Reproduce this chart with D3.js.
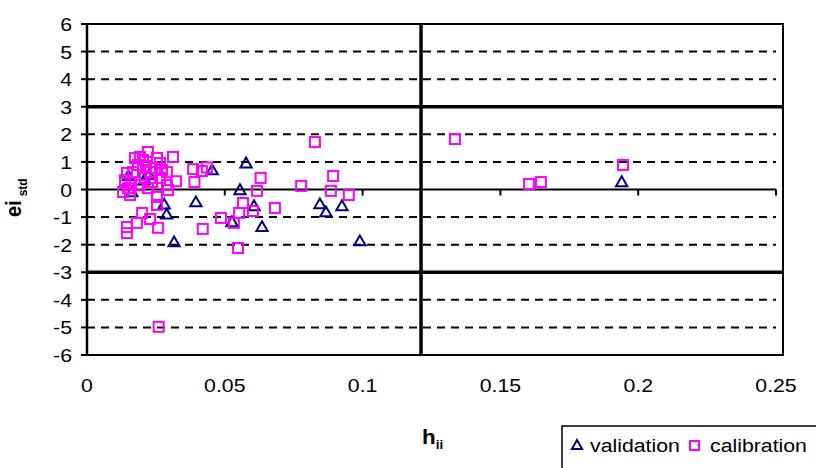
<!DOCTYPE html>
<html>
<head>
<meta charset="utf-8">
<script src="https://cdn.jsdelivr.net/npm/d3@7"></script>
<style>
  body { margin: 0; background: #fff; }
  svg { display: block; font-family: Arial, "Liberation Sans", sans-serif; }
</style>
</head>
<body>
<div class="chart"></div>
<script>
// validation set (triangles)
const valH = [0.194, 0.099, 0.0925, 0.0845, 0.0867, 0.0577, 0.0454, 0.0555, 0.0395, 0.0606, 0.0526, 0.0635, 0.0316, 0.028, 0.0289, 0.0163, 0.015, 0.0225, 0.0207];
const valE = [0.24, -1.9, -0.63, -0.56, -0.85, 0.92, 0.67, -0.05, -0.49, -0.63, -1.21, -1.39, -1.94, -0.57, -0.93, -0.13, 0.45, 0.5, 0.3];

// calibration set (squares)
const calH = [0.0827, 0.0385, 0.0435, 0.0417, 0.0323, 0.039, 0.063, 0.0617, 0.0777, 0.0893, 0.0885, 0.095,
              0.0566, 0.0552, 0.0602, 0.0682, 0.0486, 0.0533, 0.042, 0.0548,
              0.1335, 0.1945, 0.1604, 0.1647, 0.026,
              0.0174, 0.0221, 0.0254, 0.0312, 0.0192, 0.0167, 0.0145, 0.0247, 0.029, 0.0138, 0.0149, 0.0131,
              0.0156, 0.0221, 0.0236, 0.029, 0.0294, 0.0254, 0.0254, 0.02, 0.0229, 0.0145, 0.0145, 0.0181, 0.0258,
              0.0203, 0.0265, 0.0214, 0.0185, 0.0272, 0.0229, 0.0192, 0.0265, 0.016, 0.021];
const calE = [1.72, 0.74, 0.8, 0.67, 0.3, 0.27, 0.42, -0.05, 0.13, 0.49, -0.05, -0.2,
              -0.49, -0.85, -0.78, -0.67, -1.03, -1.21, -1.43, -2.12,
              1.83, 0.89, 0.2, 0.27, -4.98,
              1.14, 1.36, 1.14, 1.18, 1.18, 0.63, 0.6, 0.78, 0.63, 0.34, 0.05, -0.09,
              -0.2, 0.05, 0.27, 0.16, -0.02, -0.56, -0.27, -0.85, -1.07, -1.36, -1.58, -1.21, -1.39,
              1.07, 0.96, 0.85, 0.89, 0.71, 0.63, 0.16, 0.42, 0.24, 0.42];

const xTicks = [0, 0.05, 0.1, 0.15, 0.2, 0.25];
const yTicks = [-6, -5, -4, -3, -2, -1, 0, 1, 2, 3, 4, 5, 6];
const limitE = [3, -3];   // standardized residual limits
const hStar = 0.1212;      // warning leverage

const w = 816, h = 468;
const svg = d3.select('.chart').append('svg').attr('width', w).attr('height', h);

const x = d3.scaleLinear().domain([0, 0.25]).range([87, 776]);
const y = d3.scaleLinear().domain([-6, 6]).range([355, 24]);
const right = 783;
const sx = 1.12; // text is a bit wide in the original

function label(g, tx, ty, str, size, anchor, weight) {
    return g.append('text')
        .attr('transform', `translate(${tx},${ty}) scale(${sx},1)`)
        .attr('text-anchor', anchor)
        .attr('font-size', size)
        .attr('font-weight', weight || 'normal')
        .text(str);
}

// plot frame
svg.append('rect')
    .attr('x', x(0)).attr('y', y(6))
    .attr('width', right - x(0)).attr('height', y(-6) - y(6))
    .attr('fill', 'none').attr('stroke', '#000').attr('stroke-width', 2);

// dashed gridlines
svg.selectAll('.grid')
    .data(yTicks.filter(d => d !== 0 && d !== 3 && d !== -3))
    .enter().append('line')
    .attr('x1', x(0)).attr('x2', x(0.25))
    .attr('y1', d => y(d)).attr('y2', d => y(d))
    .attr('stroke', '#000').attr('stroke-width', 2)
    .attr('stroke-dasharray', '8,6');

// limit lines
svg.selectAll('.limit')
    .data(limitE)
    .enter().append('line')
    .attr('x1', x(0)).attr('x2', right)
    .attr('y1', d => y(d)).attr('y2', d => y(d))
    .attr('stroke', '#000').attr('stroke-width', 3.5);

svg.append('line')
    .attr('x1', x(hStar)).attr('x2', x(hStar))
    .attr('y1', y(6)).attr('y2', y(-6))
    .attr('stroke', '#000').attr('stroke-width', 3.5);

// y axis
svg.append('line')
    .attr('x1', x(0)).attr('x2', x(0)).attr('y1', y(6)).attr('y2', y(-6))
    .attr('stroke', '#000').attr('stroke-width', 2.5);
svg.selectAll('.ytick')
    .data(yTicks).enter().append('line')
    .attr('x1', x(0) - 6).attr('x2', x(0))
    .attr('y1', d => y(d)).attr('y2', d => y(d))
    .attr('stroke', '#000').attr('stroke-width', 2);
yTicks.forEach(d => label(svg, 72, y(d) + 7, d, 19, 'end'));

// x axis at e = 0
svg.append('line')
    .attr('x1', x(0)).attr('x2', x(0.25)).attr('y1', y(0)).attr('y2', y(0))
    .attr('stroke', '#000').attr('stroke-width', 2);
svg.selectAll('.xtick')
    .data(xTicks).enter().append('line')
    .attr('x1', d => x(d)).attr('x2', d => x(d))
    .attr('y1', y(0)).attr('y2', y(0) + 6)
    .attr('stroke', '#000').attr('stroke-width', 2);
xTicks.forEach(d => label(svg, x(d), 392, d, 19, 'middle'));

// axis titles
const xt = svg.append('text')
    .attr('transform', `translate(422,444) scale(${sx},1)`)
    .attr('font-size', 20).attr('font-weight', 'bold');
xt.append('tspan').text('h');
xt.append('tspan').attr('font-size', 12).attr('dy', 5).text('ii');

const yt = svg.append('text')
    .attr('transform', `translate(21,217) rotate(-90) scale(1,${sx})`)
    .attr('font-size', 20).attr('font-weight', 'bold');
yt.append('tspan').text('ei');
yt.append('tspan').attr('font-size', 12).attr('dx', 4).attr('dy', 5).text('std');

// points
const tri = d3.symbol().type(d3.symbolTriangle).size(55);
svg.selectAll('.val')
    .data(valH.map((v, i) => [v, valE[i]]))
    .enter().append('path')
    .attr('d', tri)
    .attr('transform', d => `translate(${x(d[0])},${y(d[1])})`)
    .attr('fill', 'none').attr('stroke', '#000080').attr('stroke-width', 2);

svg.selectAll('.cal')
    .data(calH.map((v, i) => [v, calE[i]]))
    .enter().append('rect')
    .attr('x', d => x(d[0]) - 5).attr('y', d => y(d[1]) - 5)
    .attr('width', 10).attr('height', 10)
    .attr('fill', 'none').attr('stroke', '#ff00ff').attr('stroke-width', 2);

// legend
const lg = svg.append('g');
lg.append('rect')
    .attr('x', 562).attr('y', 426).attr('width', 270).attr('height', 60)
    .attr('fill', '#fff').attr('stroke', '#000').attr('stroke-width', 1.5);
lg.append('path')
    .attr('d', d3.symbol().type(d3.symbolTriangle).size(45))
    .attr('transform', 'translate(577,446)')
    .attr('fill', 'none').attr('stroke', '#000080').attr('stroke-width', 2);
label(lg, 590, 452, 'validation', 19, 'start');
lg.append('rect')
    .attr('x', 690).attr('y', 441).attr('width', 9).attr('height', 9)
    .attr('fill', 'none').attr('stroke', '#ff00ff').attr('stroke-width', 2);
label(lg, 710, 452, 'calibration', 19, 'start');
</script>
</body>
</html>
